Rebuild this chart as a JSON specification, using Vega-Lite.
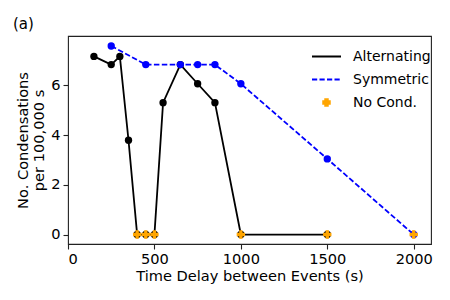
{
  "$schema": "https://vega.github.io/schema/vega-lite/v6.json",
  "autosize": {"type": "none"},
  "width": 363,
  "height": 208,
  "padding": {"left": 68, "top": 36, "right": 19, "bottom": 56},
  "background": "white",
  "title": {"text": "(a)", "anchor": "start", "frame": "group", "dx": -55, "offset": 4, "fontSize": 15, "fontWeight": "normal", "font": "DejaVu Sans", "color": "black"},
  "config": {
    "font": "DejaVu Sans",
    "view": {"stroke": "#222222", "strokeWidth": 1.1},
    "axis": {"grid": false, "domain": false, "tickColor": "#222222", "tickSize": 5, "tickWidth": 1.1, "labelColor": "black", "labelFontSize": 14.6, "labelFont": "DejaVu Sans", "titleFont": "DejaVu Sans", "titleFontSize": 14.6, "titleFontWeight": "normal", "titleColor": "black"}
  },
  "data": {"values": [
    {"series": "Alternating", "x": 150, "y": 7.16},
    {"series": "Alternating", "x": 250, "y": 6.83},
    {"series": "Alternating", "x": 300, "y": 7.16},
    {"series": "Alternating", "x": 350, "y": 3.79},
    {"series": "Alternating", "x": 400, "y": 0},
    {"series": "Alternating", "x": 450, "y": 0},
    {"series": "Alternating", "x": 500, "y": 0},
    {"series": "Alternating", "x": 550, "y": 5.3},
    {"series": "Alternating", "x": 650, "y": 6.83},
    {"series": "Alternating", "x": 750, "y": 6.06},
    {"series": "Alternating", "x": 850, "y": 5.3},
    {"series": "Alternating", "x": 1000, "y": 0},
    {"series": "Alternating", "x": 1500, "y": 0},
    {"series": "Symmetric", "x": 250, "y": 7.58},
    {"series": "Symmetric", "x": 450, "y": 6.83},
    {"series": "Symmetric", "x": 650, "y": 6.83},
    {"series": "Symmetric", "x": 750, "y": 6.83},
    {"series": "Symmetric", "x": 850, "y": 6.83},
    {"series": "Symmetric", "x": 1000, "y": 6.06},
    {"series": "Symmetric", "x": 1500, "y": 3.04},
    {"series": "Symmetric", "x": 2000, "y": 0},
    {"series": "No Cond.", "x": 400, "y": 0},
    {"series": "No Cond.", "x": 450, "y": 0},
    {"series": "No Cond.", "x": 500, "y": 0},
    {"series": "No Cond.", "x": 1000, "y": 0},
    {"series": "No Cond.", "x": 1500, "y": 0},
    {"series": "No Cond.", "x": 2000, "y": 0}
  ]},
  "encoding": {
    "x": {"field": "x", "type": "quantitative", "scale": {"domain": [0, 2100], "nice": false, "zero": false}, "axis": {"values": [0, 500, 1000, 1500, 2000], "format": "d", "title": "Time Delay between Events (s)", "labelPadding": 2, "titlePadding": 3}},
    "y": {"field": "y", "type": "quantitative", "scale": {"domain": [-0.38, 7.98], "nice": false, "zero": false}, "axis": {"values": [0, 2, 4, 6], "format": "d", "title": ["No. Condensations", "per 100,000 s"], "labelPadding": 3, "titlePadding": 4}},
    "color": {"field": "series", "type": "nominal", "scale": {"domain": ["Alternating", "Symmetric", "No Cond."], "range": ["black", "#0000ff", "orange"]}}
  },
  "layer": [
    {
      "transform": [{"filter": "datum.series === 'Alternating'"}],
      "mark": {"type": "line", "strokeWidth": 1.8},
      "encoding": {
        "color": {"field": "series", "type": "nominal", "title": null,
          "legend": {
            "orient": "none", "legendX": 243, "legendY": 5, "padding": 0,
            "symbolType": "stroke", "symbolSize": 841, "symbolStrokeWidth": 1.8,
            "labelFontSize": 14, "labelFont": "DejaVu Sans", "labelColor": "black", "labelOffset": 11, "rowPadding": -3,
            "encode": {"symbols": {"update": {
              "shape": {"signal": "datum.value === 'No Cond.' ? 'cross' : 'stroke'"},
              "size": {"signal": "datum.value === 'No Cond.' ? 45 : 841"},
              "strokeDash": {"signal": "datum.value === 'Symmetric' ? [5.2, 2.3] : [1, 0]"},
              "fill": {"signal": "datum.value === 'No Cond.' ? 'orange' : 'transparent'"},
              "stroke": {"signal": "datum.value === 'No Cond.' ? 'transparent' : (datum.value === 'Symmetric' ? '#0000ff' : 'black')"},
              "strokeWidth": {"value": 1.8},
              "opacity": {"value": 1}
            }}}
          }}
      }
    },
    {
      "transform": [{"filter": "datum.series === 'Alternating'"}],
      "mark": {"type": "point", "filled": true, "shape": "circle", "size": 54, "opacity": 1}
    },
    {
      "transform": [{"filter": "datum.series === 'Symmetric'"}],
      "mark": {"type": "line", "strokeWidth": 1.8, "strokeDash": [5.5, 2.4]}
    },
    {
      "transform": [{"filter": "datum.series === 'Symmetric'"}],
      "mark": {"type": "point", "filled": true, "shape": "circle", "size": 54, "opacity": 1}
    },
    {
      "transform": [{"filter": "datum.series === 'No Cond.'"}],
      "mark": {"type": "point", "filled": true, "shape": "cross", "size": 70, "opacity": 1}
    }
  ]
}
